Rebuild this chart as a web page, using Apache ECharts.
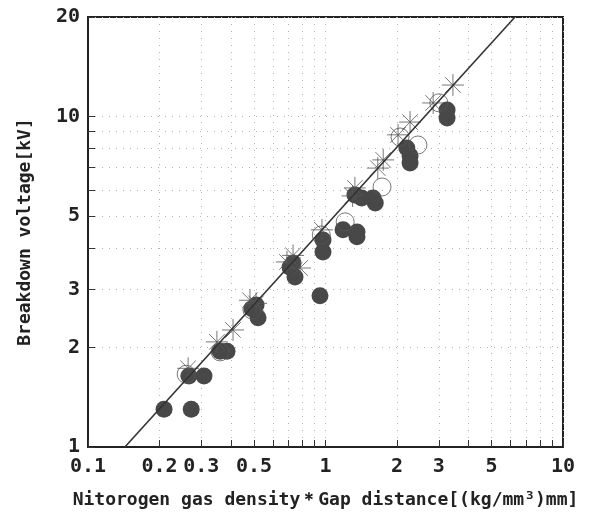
<!DOCTYPE html>
<html><head><meta charset="utf-8">
<script src="https://cdn.jsdelivr.net/npm/echarts@6/dist/echarts.min.js"></script>
<style>html,body{margin:0;padding:0;background:#fff}#c{width:595px;height:517px}</style>
</head><body><div id="c"></div>
<script>
const xTickValues = [0.1,0.2,0.3,0.4,0.5,0.6,0.7,0.8,0.9,1,2,3,4,5,6,7,8,9,10];
const xLabelValues = [0.1,0.2,0.3,0.5,1,2,3,5,10];
const yTickValues = [1,2,3,4,5,6,7,8,9,10,20];
const yLabelValues = [1,2,3,5,10,20];
const fitLine = [[0.143,1],[6.28,20]];
const filledCircles = [
  [0.209,1.30],[0.272,1.30],[0.266,1.64],[0.308,1.64],[0.360,1.95],[0.385,1.95],
  [0.490,2.62],[0.520,2.46],[0.510,2.69],[0.709,3.50],[0.744,3.27],[0.730,3.60],
  [0.948,2.87],[0.976,4.23],[0.976,3.89],[1.185,4.54],[1.357,4.47],[1.357,4.33],
  [1.33,5.79],[1.42,5.67],[1.585,5.67],[1.62,5.47],[2.20,8.03],[2.27,7.60],[2.27,7.23],
  [3.25,10.46],[3.25,9.90]
];
const openCircles = [
  [0.259,1.66],[0.360,1.94],[0.49,2.60],[0.96,4.38],[1.21,4.80],[1.73,6.12],
  [2.06,8.67],[2.45,8.20],[3.0,11.0]
];
const asterisks = [
  [0.264,1.73],[0.349,2.08],[0.408,2.26],[0.481,2.78],[0.51,2.72],[0.688,3.63],
  [0.781,3.48],[0.73,3.80],[0.966,4.54],[1.33,6.08],[1.30,5.75],[1.75,7.39],[1.66,6.98],
  [2.27,9.62],[2.02,8.80],[2.84,10.99],[3.44,12.45]
];
const xTitle = 'Nitorogen gas density\uFF0AGap distance[(kg/mm\u00B3)mm]';
const yTitle = 'Breakdown voltage[kV]';

const FONT = 'DejaVu Sans Mono';
const chart = echarts.init(document.getElementById('c'), null, {renderer:'canvas'});
const asteriskPath = 'path://M10 0L10 20M0 10L20 10M2.93 2.93L17.07 17.07M2.93 17.07L17.07 2.93';
chart.setOption({
  animation:false,
  backgroundColor:'#fff',
  grid:{left:88,right:32,top:17,bottom:70,show:true,borderColor:'#222',borderWidth:2,backgroundColor:'transparent'},
  xAxis:{
    type:'log',logBase:10,min:0.1,max:10,
    name:xTitle,nameLocation:'middle',nameGap:44,
    nameTextStyle:{fontFamily:FONT,fontWeight:'bold',fontSize:18,color:'#222'},
    axisLine:{show:true,lineStyle:{color:'#222',width:2}},
    axisTick:{show:true,inside:true,length:7,lineStyle:{color:'#333',width:1},customValues:xTickValues},
    axisLabel:{show:true,margin:10,fontFamily:FONT,fontWeight:'bold',fontSize:20,color:'#222',customValues:xLabelValues,formatter:v=>String(+v.toPrecision(3))},
    splitLine:{show:true,lineStyle:{color:'#b4b4b4',width:1,type:[1,6]}}
  },
  yAxis:{
    type:'log',logBase:10,min:1,max:20,
    name:yTitle,nameLocation:'middle',nameGap:54,nameRotate:90,
    nameTextStyle:{fontFamily:FONT,fontWeight:'bold',fontSize:18,color:'#222'},
    axisLine:{show:true,lineStyle:{color:'#222',width:2}},
    axisTick:{show:true,inside:true,length:7,lineStyle:{color:'#333',width:1},customValues:yTickValues},
    axisLabel:{show:true,margin:8,fontFamily:FONT,fontWeight:'bold',fontSize:20,color:'#222',customValues:yLabelValues,formatter:v=>String(+v.toPrecision(3))},
    splitLine:{show:true,lineStyle:{color:'#b4b4b4',width:1,type:[1,6]}}
  },
  series:[
    {type:'scatter',data:filledCircles,symbol:'circle',symbolSize:17,itemStyle:{color:'#484848',opacity:1},z:2},
    {type:'scatter',data:openCircles,symbol:'circle',symbolSize:18,itemStyle:{color:'rgba(0,0,0,0)',borderColor:'#555',borderWidth:1},z:3},
    {type:'scatter',data:asterisks,symbol:asteriskPath,symbolSize:22,itemStyle:{color:'none',borderColor:'#555',borderWidth:1},z:4},
    {type:'line',data:fitLine,symbol:'none',lineStyle:{color:'#333',width:1.6},z:5}
  ]
});
</script></body></html>
